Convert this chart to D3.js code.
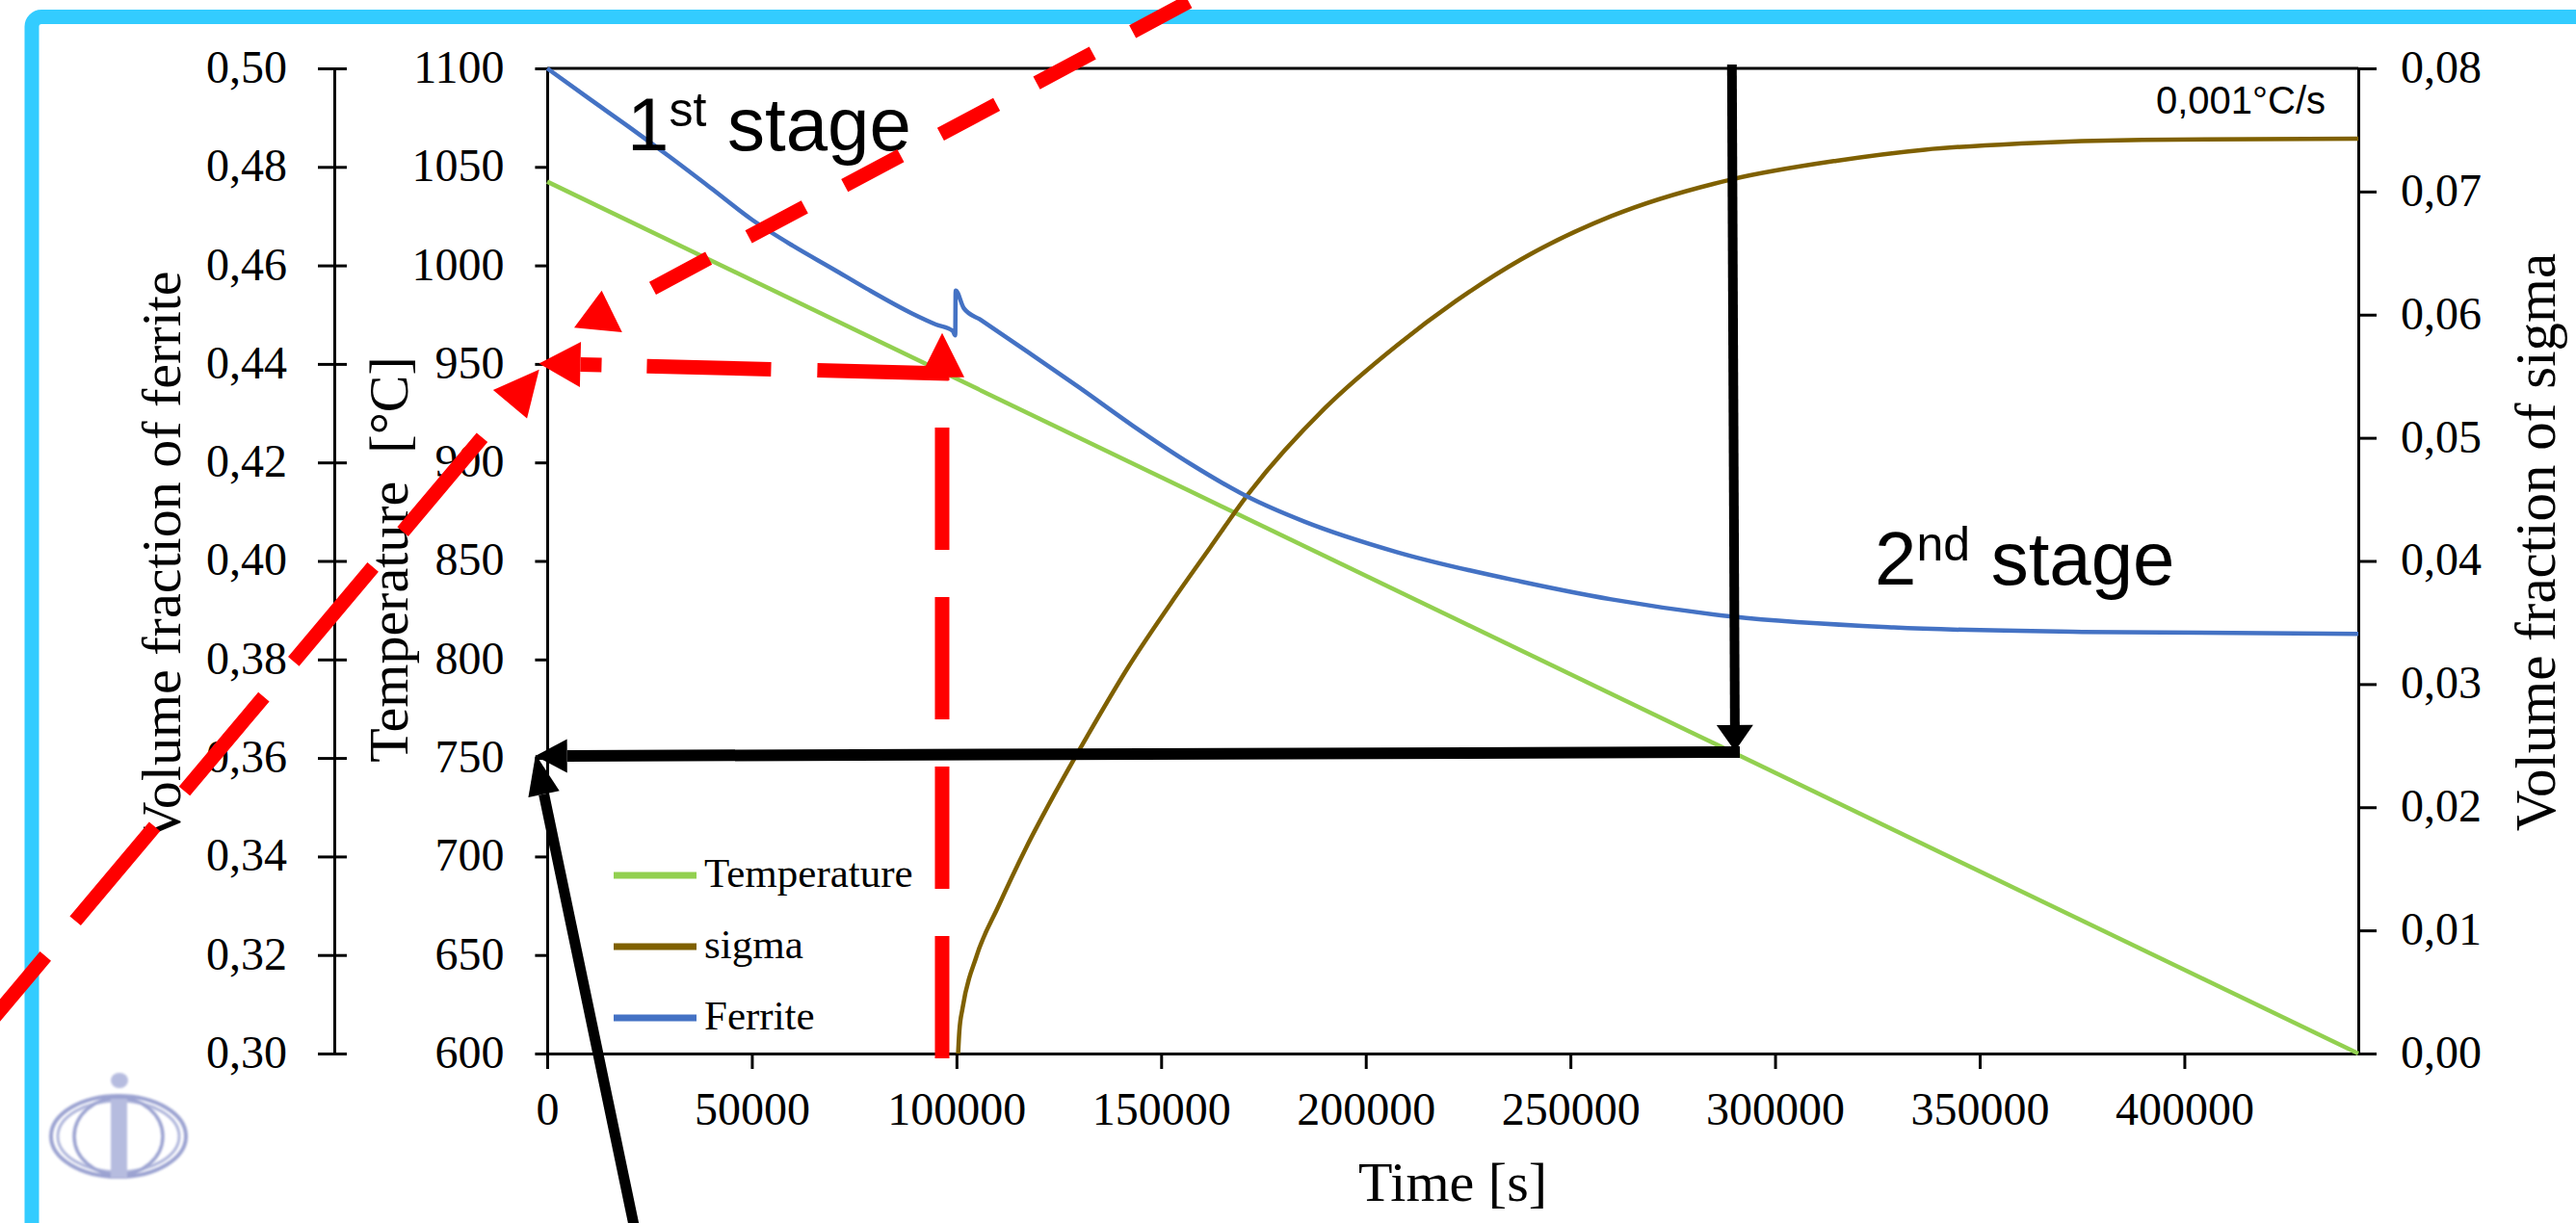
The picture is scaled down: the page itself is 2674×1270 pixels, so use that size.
<!DOCTYPE html>
<html>
<head>
<meta charset="utf-8">
<script src="https://cdn.jsdelivr.net/npm/d3@7"></script>
<style>
  html, body { margin: 0; padding: 0; background: #fff; }
  svg { display: block; }
</style>
</head>
<body>
<svg id="chart" width="2674" height="1270"></svg>
<script>
// ---- data -------------------------------------------------------------
const timeTicks = [0, 50000, 100000, 150000, 200000, 250000, 300000, 350000, 400000];
const temperatureTicks = [600, 650, 700, 750, 800, 850, 900, 950, 1000, 1050, 1100];
const ferriteTicks = [0.30, 0.32, 0.34, 0.36, 0.38, 0.40, 0.42, 0.44, 0.46, 0.48, 0.50];
const sigmaTicks = [0, 0.01, 0.02, 0.03, 0.04, 0.05, 0.06, 0.07, 0.08];

// cooling at 0.001 °C/s
const temperatureTime = [0, 442500];
const temperatureValues = [1042.5, 600];

const ferriteTime = [0, 10000, 20000, 30000, 40000, 50000, 60000, 70000, 78000, 89000, 95000,
  99100, 99700, 99800, 101800, 106000, 118000, 130000, 143000, 157000, 171000, 185000,
  207600, 238000, 260000, 289600, 329000, 375000, 442500];
const ferriteValues = [0.500, 0.4940, 0.4881, 0.4820, 0.4757, 0.4693, 0.4640, 0.4592, 0.4553, 0.4503, 0.4480,
  0.4467, 0.4458, 0.4549, 0.4513, 0.4489, 0.4421, 0.4352, 0.4275, 0.4198, 0.4131, 0.4080,
  0.4018, 0.3958, 0.3922, 0.3887, 0.3865, 0.3856, 0.3852];

const sigmaTime = [100400, 100700, 101500, 104900, 110300, 117000, 124000, 132000, 142000, 153500,
  162000, 171000, 190000, 207600, 222000, 238000, 260000, 289600, 315000, 336600, 360000, 389700, 442500];
const sigmaValues = [0, 0.0018, 0.0037, 0.0079, 0.0120, 0.0167, 0.0211, 0.0258, 0.0314, 0.0371,
  0.0411, 0.0453, 0.0524, 0.0575, 0.0611, 0.0645, 0.0680, 0.0710, 0.0725, 0.0734, 0.0739, 0.0742, 0.0743];

const legendLabels = ["Temperature", "sigma", "Ferrite"];
const seriesColors = { Temperature: "#92d050", sigma: "#7f6000", Ferrite: "#4472c4" };

// ---- layout -------------------------------------------------------------
const svg = d3.select("#chart");
const SERIF = "'Liberation Serif', 'Times New Roman', serif";
const SANS = "'Liberation Sans', Arial, sans-serif";

const x = d3.scaleLinear().domain([0, 442500]).range([568, 2448]);
const yT = d3.scaleLinear().domain([600, 1100]).range([1094, 71]);
const yF = d3.scaleLinear().domain([0.30, 0.50]).range([1094, 71]);
const yS = d3.scaleLinear().domain([0, 0.08]).range([1094, 71]);

const comma = d3.formatLocale({ decimal: ",", thousands: ".", grouping: [3], currency: ["", ""] });
const fmt2 = comma.format(".2f");
const fmtInt = d3.format("d");

// slide frame
svg.append("rect")
  .attr("x", 33).attr("y", 17.5).attr("width", 3200).attr("height", 2000).attr("rx", 10)
  .attr("fill", "none").attr("stroke", "#33ccff").attr("stroke-width", 15);

// ---- axes ---------------------------------------------------------------
function styleAxis(g, size) {
  g.attr("font-family", SERIF).attr("font-size", size);
  g.selectAll("path, line").attr("stroke", "#000").attr("stroke-width", 3);
  g.selectAll("text").attr("fill", "#000");
}

svg.append("g")
  .attr("transform", `translate(0,${yT(600)})`)
  .call(d3.axisBottom(x).tickValues(timeTicks).tickFormat(fmtInt)
    .tickSizeInner(16).tickSizeOuter(0).tickPadding(24))
  .call(styleAxis, 48);

svg.append("g")
  .attr("transform", `translate(${x(0)},0)`)
  .call(d3.axisLeft(yT).tickValues(temperatureTicks).tickFormat(fmtInt)
    .tickSizeInner(12.6).tickSizeOuter(0).tickPadding(32))
  .call(styleAxis, 48)
  .selectAll("text").attr("dy", "0.3em");

const ferriteAxis = svg.append("g")
  .attr("transform", `translate(347,0)`)
  .call(d3.axisLeft(yF).tickValues(ferriteTicks).tickFormat(fmt2)
    .tickSizeInner(17).tickSizeOuter(0).tickPadding(32))
  .call(styleAxis, 48);
ferriteAxis.selectAll(".tick line").attr("x1", 13);
ferriteAxis.selectAll("text").attr("dy", "0.3em");

svg.append("g")
  .attr("transform", `translate(${x.range()[1]},0)`)
  .call(d3.axisRight(yS).tickValues(sigmaTicks).tickFormat(fmt2)
    .tickSizeInner(19).tickSizeOuter(0).tickPadding(25))
  .call(styleAxis, 48)
  .selectAll("text").attr("dy", "0.3em");

// top edge of the plot area
svg.append("line")
  .attr("x1", x.range()[0]).attr("x2", x.range()[1])
  .attr("y1", yT(1100)).attr("y2", yT(1100))
  .attr("stroke", "#000").attr("stroke-width", 3);

// axis titles
svg.append("text").text("Time [s]")
  .attr("x", (x.range()[0] + x.range()[1]) / 2).attr("y", 1247)
  .attr("text-anchor", "middle").attr("font-family", SERIF).attr("font-size", 58).attr("fill", "#000");

svg.append("text").text("Temperature\u00a0 [°C]")
  .attr("transform", "translate(423,581) rotate(-90)")
  .attr("text-anchor", "middle").attr("font-family", SERIF).attr("font-size", 58).attr("fill", "#000");

svg.append("text").text("Volume fraction of ferrite")
  .attr("transform", "translate(187,578) rotate(-90)")
  .attr("text-anchor", "middle").attr("font-family", SERIF).attr("font-size", 58).attr("fill", "#000");

svg.append("text").text("Volume fraction of sigma")
  .attr("transform", "translate(2652,563) rotate(-90)")
  .attr("text-anchor", "middle").attr("font-family", SERIF).attr("font-size", 59).attr("fill", "#000");

// ---- series -------------------------------------------------------------
const plot = svg.append("g");

const tempLine = d3.line().x((d, i) => x(temperatureTime[i])).y(d => yT(d));
plot.append("path").datum(temperatureValues)
  .attr("d", tempLine).attr("fill", "none")
  .attr("stroke", seriesColors.Temperature).attr("stroke-width", 4.5);

const sigmaLine = d3.line().curve(d3.curveMonotoneX)
  .x((d, i) => x(sigmaTime[i])).y(d => yS(d));
plot.append("path").datum(sigmaValues)
  .attr("d", sigmaLine).attr("fill", "none")
  .attr("stroke", seriesColors.sigma).attr("stroke-width", 4.5);

const ferriteLine = d3.line().curve(d3.curveMonotoneX)
  .x((d, i) => x(ferriteTime[i])).y(d => yF(d));
plot.append("path").datum(ferriteValues)
  .attr("d", ferriteLine).attr("fill", "none")
  .attr("stroke", seriesColors.Ferrite).attr("stroke-width", 4.5);

// legend
const legend = svg.append("g").attr("transform", `translate(${x(0) + 69},909)`);
legendLabels.forEach((name, i) => {
  const row = legend.append("g").attr("transform", `translate(0,${i * 74})`);
  row.append("line").attr("x1", 0).attr("x2", 86).attr("y1", 0).attr("y2", 0)
    .attr("stroke", seriesColors[name]).attr("stroke-width", 7);
  row.append("text").text(name).attr("x", 94).attr("y", 12)
    .attr("font-family", SERIF).attr("font-size", 43).attr("fill", "#000");
});

// ---- text notes -----------------------------------------------------------
svg.append("text")
  .attr("x", x(434500)).attr("y", yT(1077)).attr("text-anchor", "end")
  .attr("font-family", SANS).attr("font-size", 40).attr("fill", "#000")
  .text("0,001°C/s");

function stageLabel(t, T, num, sup) {
  const txt = svg.append("text").attr("x", x(t)).attr("y", yT(T))
    .attr("font-family", SANS).attr("font-size", 78).attr("fill", "#000");
  txt.append("tspan").text(num);
  txt.append("tspan").attr("font-size", 50).attr("dy", -25).text(sup);
  txt.append("tspan").attr("font-size", 78).attr("dy", 25).text("\u00a0stage");
}
stageLabel(19550, 1058.5, "1", "st");
stageLabel(324340, 838.2, "2", "nd");

// ---- logo ---------------------------------------------------------------
const defs = svg.append("defs");
defs.append("filter").attr("id", "soft").append("feGaussianBlur").attr("stdDeviation", 1.2);
const logo = svg.append("g").attr("filter", "url(#soft)").attr("opacity", 0.85);
logo.append("ellipse").attr("cx", 123).attr("cy", 1180).attr("rx", 70).attr("ry", 42)
  .attr("fill", "none").attr("stroke", "#8a93c9").attr("stroke-width", 4);
logo.append("ellipse").attr("cx", 123).attr("cy", 1180).attr("rx", 63).attr("ry", 37)
  .attr("fill", "none").attr("stroke", "#a3aad6").attr("stroke-width", 3);
logo.append("ellipse").attr("cx", 123).attr("cy", 1180).attr("rx", 46).attr("ry", 40)
  .attr("fill", "none").attr("stroke", "#8a93c9").attr("stroke-width", 3.5);
logo.append("rect").attr("x", 115).attr("y", 1141).attr("width", 17).attr("height", 82)
  .attr("fill", "#aab1da");
logo.append("ellipse").attr("cx", 124).attr("cy", 1122).attr("rx", 9).attr("ry", 8)
  .attr("fill", "#aab1da");

// ---- guide arrows (positions in time / temperature units) ------------------
const notes = svg.append("g");
const P = ([t, T]) => [x(t), yT(T)];

function head(tip, from, len, width, color) {
  const dx = tip[0] - from[0], dy = tip[1] - from[1], d = Math.hypot(dx, dy);
  const ux = dx / d, uy = dy / d;
  const bx = tip[0] - ux * len, by = tip[1] - uy * len;
  const nx = -uy * width / 2, ny = ux * width / 2;
  notes.append("polygon")
    .attr("points", [[tip[0], tip[1]], [bx + nx, by + ny], [bx - nx, by - ny]].map(p => p.join(",")).join(" "))
    .attr("fill", color);
  return [bx, by];
}

function guide(startData, tipData, opts) {
  const s = P(startData), tip = P(tipData);
  const base = head(tip, s, opts.len, opts.width, opts.color);
  const from = opts.fromHead ? base : s, to = opts.fromHead ? s : base;
  const line = notes.append("path")
    .attr("d", d3.line()([from, to]))
    .attr("fill", "none").attr("stroke", opts.color).attr("stroke-width", opts.stroke);
  if (opts.dash) line.attr("stroke-dasharray", opts.dash).attr("stroke-dashoffset", opts.offset || 0);
}

// red: time at which sigma appears, read across to the temperature axis
guide([96500, 597.6], [96500, 965.7], { len: 46, width: 46, color: "#ff0000", stroke: 15, dash: "127 49" });
guide([98100, 945.1], [-2000, 950.2], { len: 43, width: 47, color: "#ff0000", stroke: 15,
  dash: "22 47 129 48 200", fromHead: true });
guide([-136500, 615], [-1953, 947.1], { len: 47, width: 46, color: "#ff0000", stroke: 15,
  dash: "128 48", offset: 131, fromHead: true });
// upper red leader with its marker
{
  const s = P([16005, 977.6]), e = P([160990, 1138.6]);
  notes.append("path").attr("d", d3.line()([s, e]))
    .attr("fill", "none").attr("stroke", "#ff0000").attr("stroke-width", 15)
    .attr("stroke-dasharray", "66 47").attr("stroke-dashoffset", 66);
  head(P([13322, 987.2]), P([12451, 967.3]), 41, 50, "#ff0000");
}

// black: end of transformation, read across to the temperature axis
guide([289460, 1102], [290210, 753.5], { len: 27, width: 38, color: "#000", stroke: 10 });
guide([291390, 753.0], [-2895, 751.0], { len: 33, width: 35, color: "#000", stroke: 12 });
guide([22054, 504.2], [-2824, 751.8], { len: 42, width: 33, color: "#000", stroke: 11 });
</script>
</body>
</html>
